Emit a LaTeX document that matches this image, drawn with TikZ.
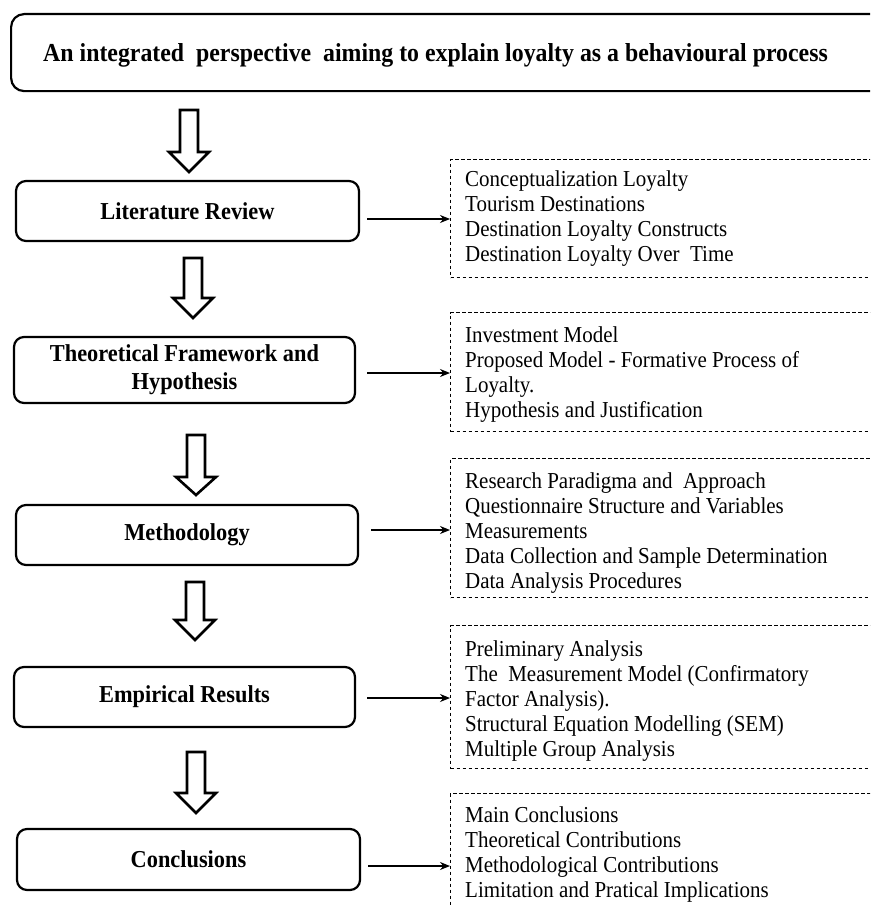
\documentclass[tikz,border=0pt]{standalone}
\usepackage{fontspec}
\setmainfont{Liberation Serif}[FakeStretch=0.92]
\usetikzlibrary{arrows.meta}

% hollow downward block arrow: x, shaft top, head base, tip
\newcommand{\blockdown}[4]{%
  \draw[hollow] (#1-9,#2) -- (#1+9,#2) -- (#1+9,#3) -- (#1+20,#3)
    -- (#1,#4) -- (#1-20,#3) -- (#1-9,#3) -- cycle;}

\begin{document}
\begin{tikzpicture}[x=1pt,y=-1pt,
  stage/.style={draw, line width=2.2pt, rounded corners=10pt, align=center,
    inner sep=0pt, font=\fontsize{24.3}{28}\selectfont\bfseries},
  topicbox/.style={draw, line width=1pt, dash pattern=on 3.5pt off 2.5pt,
    anchor=north west, minimum width=470pt, inner sep=0pt},
  topictext/.style={anchor=north west, align=left, inner sep=0pt,
    font=\fontsize{22.8}{25.2}\selectfont},
  link/.style={-{Stealth[length=10pt,width=8pt]}, line width=1.2pt},
  hollow/.style={draw, line width=2.6pt, fill=white, line join=miter},
]
\useasboundingbox (0,0) rectangle (870,907);
\clip (0,0) rectangle (870,907);

% heading banner (runs off the right edge)
\node[draw, line width=2.2pt, rounded corners=13pt, anchor=north west,
  minimum width=900pt, minimum height=77pt, inner sep=0pt] (top) at (10,13) {};
\node[inner sep=0pt, font=\fontsize{25.9}{30}\selectfont\bfseries] (title) at (435.5,55)
  {An integrated\ \ perspective\ \ aiming to explain loyalty as a behavioural process};

% stages
\node[stage, minimum width=343pt, minimum height=60pt] (lr) at (187.5,211) {Literature Review};
\node[stage, minimum width=341pt, minimum height=66pt] (tf) at (184.5,370) {Theoretical Framework and\\Hypothesis};
\node[stage, minimum width=342pt, minimum height=60pt] (me) at (187,535) {Methodology};
\node[stage, minimum width=341pt, minimum height=60pt] (er) at (184.5,697) {Empirical Results};
\node[stage, minimum width=343pt, minimum height=61pt] (co) at (188.5,859.5) {Conclusions};

% flow between stages
\blockdown{189}{110}{152}{172}
\blockdown{193}{258}{298}{318}
\blockdown{196}{435}{477}{495}
\blockdown{195}{582}{620}{640}
\blockdown{196}{752}{793}{813}

% topic boxes
\node[topicbox, minimum height=118pt] (d1) at (450,159) {};
\node[topicbox, minimum height=119pt] (d2) at (450,312) {};
\node[topicbox, minimum height=139pt] (d3) at (450,458) {};
\node[topicbox, minimum height=143pt] (d4) at (450,625) {};
\node[topicbox, minimum height=140pt] (d5) at (450,793) {};

\node[topictext] (t1) at (465,170) {Conceptualization Loyalty\\Tourism Destinations\\Destination Loyalty Constructs\\Destination Loyalty Over\ \ Time};
\node[topictext] (t2) at (465,326) {Investment Model\\Proposed Model - Formative Process of\\Loyalty.\\Hypothesis and Justification};
\node[topictext] (t3) at (465,472) {Research Paradigma and\ \ Approach\\Questionnaire Structure and Variables\\Measurements\\Data Collection and Sample Determination\\Data Analysis Procedures};
\node[topictext] (t4) at (465,640) {Preliminary Analysis\\The\ \ Measurement Model (Confirmatory\\Factor Analysis).\\Structural Equation Modelling (SEM)\\Multiple Group Analysis};
\node[topictext] (t5) at (465,806) {Main Conclusions\\Theoretical Contributions\\Methodological Contributions\\Limitation and Pratical Implications};

% links from stages to topic boxes
\coordinate (s1) at ([xshift=7pt]lr.east |- 0,219);
\coordinate (s2) at ([xshift=11pt]tf.east |- 0,373);
\coordinate (s3) at ([xshift=12pt]me.east |- 0,530);
\coordinate (s4) at ([xshift=11pt]er.east |- 0,698);
\coordinate (s5) at ([xshift=7pt]co.east |- 0,866);
\draw[link] (s1) -- (s1 -| d1.west);
\draw[link] (s2) -- (s2 -| d2.west);
\draw[link] (s3) -- (s3 -| d3.west);
\draw[link] (s4) -- (s4 -| d4.west);
\draw[link] (s5) -- (s5 -| d5.west);
\end{tikzpicture}
\end{document}
